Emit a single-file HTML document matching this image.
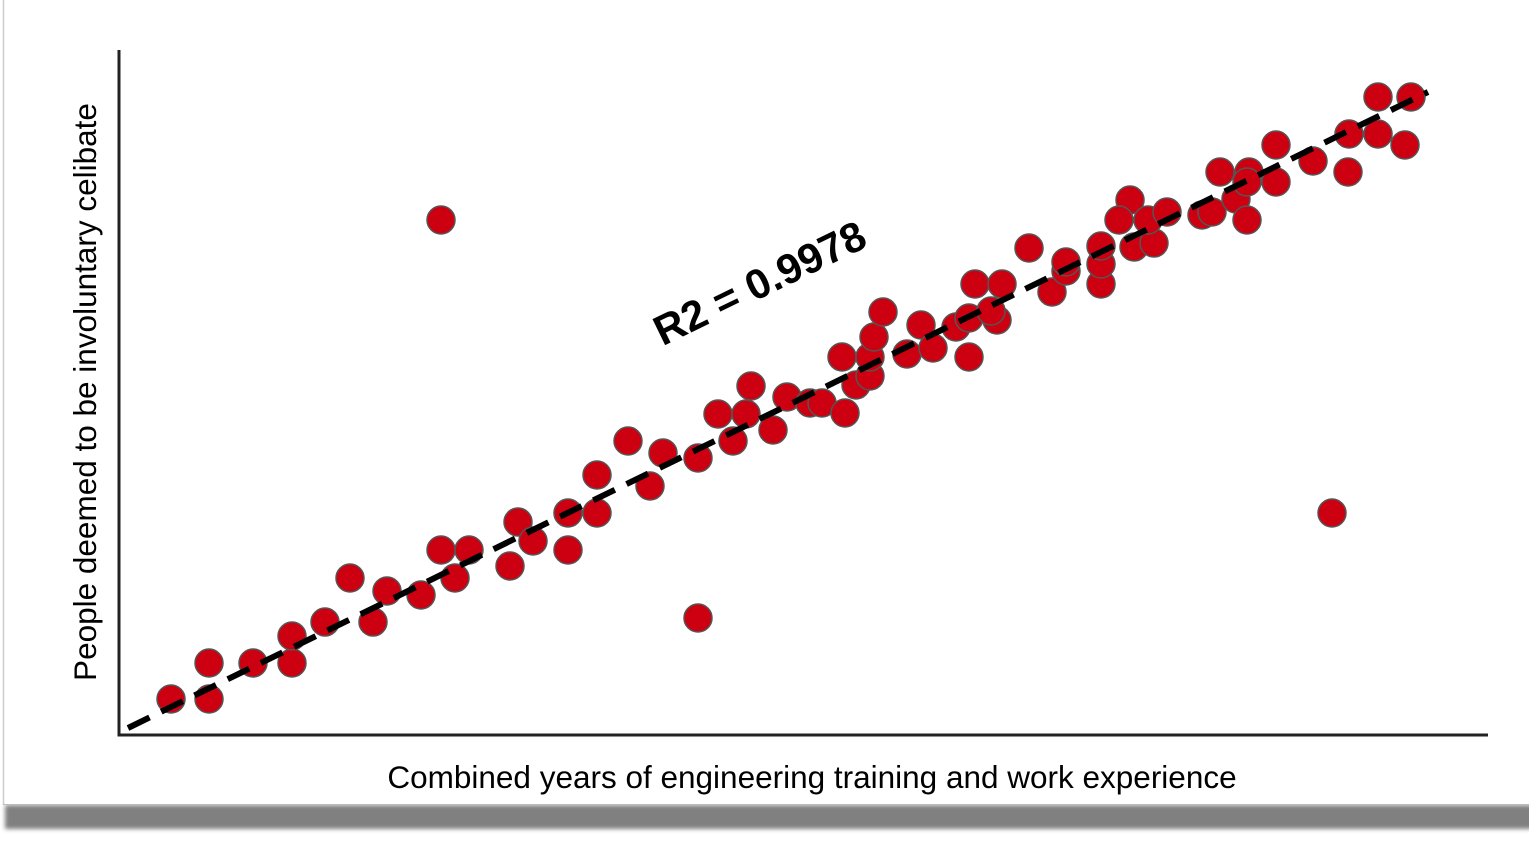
<!DOCTYPE html>
<html><head><style>
html,body{margin:0;padding:0;background:#fff;}
body{width:1529px;height:845px;overflow:hidden;position:relative;font-family:"Liberation Sans",Arial,sans-serif;}
</style></head><body>
<svg width="1529" height="845" viewBox="0 0 1529 845" xmlns="http://www.w3.org/2000/svg" style="position:absolute;left:0;top:0">
<defs><filter id="b" x="-5%" y="-100%" width="110%" height="300%"><feGaussianBlur stdDeviation="2"/></filter></defs>
<rect x="5" y="805" width="1530" height="24" fill="#808080" filter="url(#b)"/>
<rect x="3" y="0" width="1530" height="805" fill="#fff"/>
<line x1="3.5" y1="0" x2="3.5" y2="805" stroke="#ccc" stroke-width="1.5"/>
<line x1="3" y1="804.5" x2="1529" y2="804.5" stroke="#bbb" stroke-width="1"/>
<path d="M119 50 V735 H1488" fill="none" stroke="#222" stroke-width="3"/>
<g fill="#cc0011" stroke="#555" stroke-width="1.5">
<circle cx="171" cy="699" r="14"/><circle cx="209" cy="699" r="14"/><circle cx="209" cy="663" r="14"/><circle cx="253" cy="663" r="14"/><circle cx="292" cy="663" r="14"/><circle cx="292" cy="636" r="14"/><circle cx="325" cy="622" r="14"/><circle cx="350" cy="578" r="14"/><circle cx="373" cy="622" r="14"/><circle cx="387" cy="591" r="14"/><circle cx="421" cy="595" r="14"/><circle cx="441" cy="550" r="14"/><circle cx="455" cy="578" r="14"/><circle cx="469" cy="550" r="14"/><circle cx="510" cy="566" r="14"/><circle cx="518" cy="522" r="14"/><circle cx="533" cy="541" r="14"/><circle cx="568" cy="550" r="14"/><circle cx="568" cy="513" r="14"/><circle cx="597" cy="513" r="14"/><circle cx="597" cy="475" r="14"/><circle cx="628" cy="441" r="14"/><circle cx="650" cy="486" r="14"/><circle cx="663" cy="453" r="14"/><circle cx="698" cy="458" r="14"/><circle cx="698" cy="618" r="14"/><circle cx="441" cy="220" r="14"/><circle cx="718" cy="414" r="14"/><circle cx="733" cy="441" r="14"/><circle cx="746" cy="414" r="14"/><circle cx="751" cy="386" r="14"/><circle cx="773" cy="430" r="14"/><circle cx="787" cy="397" r="14"/><circle cx="810" cy="403" r="14"/><circle cx="822" cy="403" r="14"/><circle cx="845" cy="413" r="14"/><circle cx="856" cy="385" r="14"/><circle cx="870" cy="376" r="14"/><circle cx="842" cy="357" r="14"/><circle cx="870" cy="357" r="14"/><circle cx="874" cy="337" r="14"/><circle cx="883" cy="312" r="14"/><circle cx="907" cy="354" r="14"/><circle cx="921" cy="325" r="14"/><circle cx="933" cy="348" r="14"/><circle cx="956" cy="327" r="14"/><circle cx="969" cy="357" r="14"/><circle cx="969" cy="318" r="14"/><circle cx="997" cy="320" r="14"/><circle cx="991" cy="311" r="14"/><circle cx="975" cy="284" r="14"/><circle cx="1002" cy="284" r="14"/><circle cx="1029" cy="248" r="14"/><circle cx="1052" cy="292" r="14"/><circle cx="1066" cy="271" r="14"/><circle cx="1066" cy="262" r="14"/><circle cx="1101" cy="284" r="14"/><circle cx="1101" cy="264" r="14"/><circle cx="1101" cy="246" r="14"/><circle cx="1130" cy="200" r="14"/><circle cx="1134" cy="247" r="14"/><circle cx="1154" cy="243" r="14"/><circle cx="1119" cy="220" r="14"/><circle cx="1148" cy="220" r="14"/><circle cx="1167" cy="212" r="14"/><circle cx="1202" cy="215" r="14"/><circle cx="1212" cy="212" r="14"/><circle cx="1220" cy="172" r="14"/><circle cx="1236" cy="199" r="14"/><circle cx="1247" cy="220" r="14"/><circle cx="1249" cy="172" r="14"/><circle cx="1247" cy="182" r="14"/><circle cx="1276" cy="182" r="14"/><circle cx="1276" cy="145" r="14"/><circle cx="1313" cy="161" r="14"/><circle cx="1332" cy="513" r="14"/><circle cx="1348" cy="172" r="14"/><circle cx="1349" cy="134" r="14"/><circle cx="1378" cy="97" r="14"/><circle cx="1378" cy="134" r="14"/><circle cx="1405" cy="145" r="14"/><circle cx="1411" cy="97" r="14"/>
</g>
<line x1="128" y1="728" x2="1428" y2="92" stroke="#000" stroke-width="6" stroke-dasharray="24 13"/>
<text x="812" y="788" font-size="31.5" text-anchor="middle" fill="#000">Combined years of engineering training and work experience</text>
<text transform="translate(96,392) rotate(-90)" font-size="31.5" text-anchor="middle" fill="#000">People deemed to be involuntary celibate</text>
<text transform="translate(766,296) rotate(-26)" font-size="42" font-weight="bold" text-anchor="middle" fill="#000">R2 = 0.9978</text>
</svg>
</body></html>
